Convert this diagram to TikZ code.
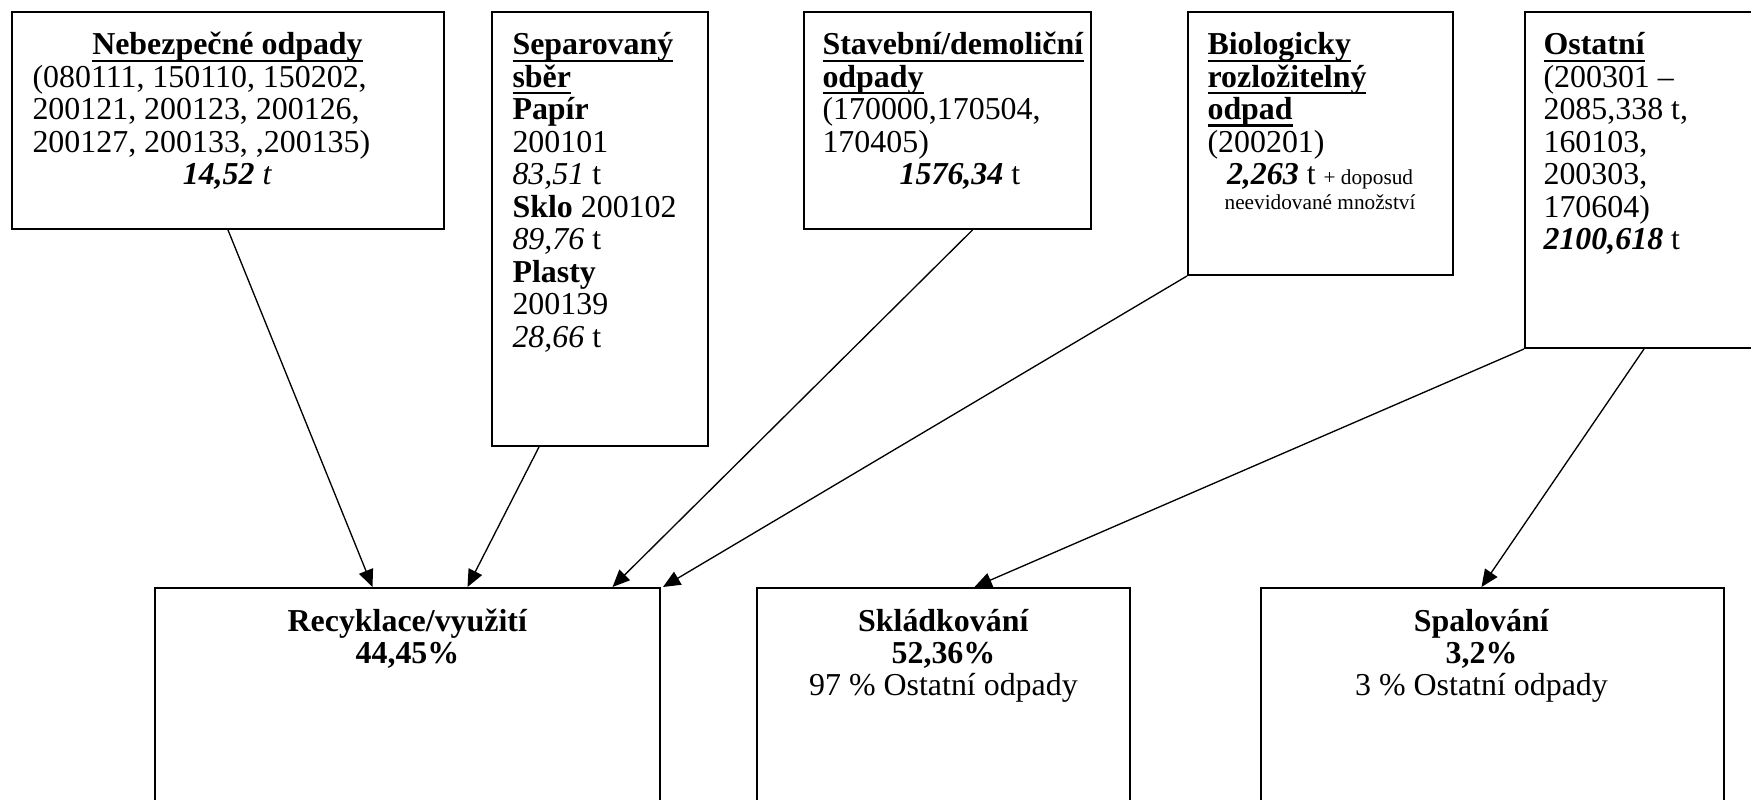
\documentclass[tikz,border=0pt]{standalone}
\usepackage{fontspec}
\setmainfont{Liberation Serif}
\usetikzlibrary{arrows.meta,calc,fit}

\newsavebox{\ulbox}
\newcommand{\ulbf}[1]{\leavevmode\sbox{\ulbox}{\textbf{#1}}\rlap{\rule[-2.6pt]{\wd\ulbox}{0.9pt}}\usebox{\ulbox}}
\newcommand{\bi}[1]{\textbf{\textit{#1}}}

\begin{document}
\begin{tikzpicture}[x=0.376pt,y=-0.376pt,>={Triangle[length=6.5pt,width=5.6pt]},
	frame/.style={draw,line width=0.75pt,inner sep=0pt},
	boxtext/.style={anchor=base west,inner sep=0pt,align=flush left,font=\fontsize{12}{12.2}\selectfont},
	goaltext/.style={anchor=base,inner sep=0pt,align=flush center,font=\fontsize{12}{12.2}\selectfont},
	flow/.style={->,line width=0.5pt}]
	\useasboundingbox (0,0) rectangle (1751,800);

	% sources
	\node[frame,fit={(12,12) (444,229)}] (nebezpecne) {};
	\node[boxtext,text width=146.6pt] at ($(nebezpecne.north west)+(21,44)$) {%
		{\centering\ulbf{Nebezpečné odpady}\par}
		(080111, 150110, 150202,\\
		200121, 200123, 200126,\\
		200127, 200133, ,200135)\par
		{\centering\bi{14,52} \textit{t}\par}};

	\node[frame,fit={(492,12) (708,446)}] (separovany) {};
	\node[boxtext,text width=65.4pt] at ($(separovany.north west)+(21,44)$) {%
		\ulbf{Separovaný}\\
		\ulbf{sběr}\\
		\textbf{Papír}\\
		200101\\
		\textit{83,51} t\\
		\textbf{Sklo} 200102\\
		\textit{89,76} t\\
		\textbf{Plasty}\\
		200139\\
		\textit{28,66} t};

	\node[frame,fit={(804,12) (1091,229)}] (stavebni) {};
	\node[boxtext,text width=99.6pt] at ($(stavebni.north west)+(19,44)$) {%
		\ulbf{Stavební/demoliční}\\
		\ulbf{odpady}\\
		(170000,170504,\\
		170405)\\
		\hspace*{29pt}\bi{1576,34} t};

	\node[frame,fit={(1188,12) (1453,275)}] (biologicky) {};
	\node[boxtext,text width=84.6pt] at ($(biologicky.north west)+(20,44)$) {%
		\ulbf{Biologicky}\\
		\ulbf{rozložitelný}\\
		\ulbf{odpad}\\
		(200201)\par
		{\centering\bi{2,263} t {\fontsize{8}{9.2}\selectfont + doposud}\par}
		{\centering\fontsize{8}{9.2}\selectfont neevidované množství\par}};

	\node[frame,fit={(1525,12) (1770,348)}] (ostatni) {};
	\node[boxtext,text width=78pt] at ($(ostatni.north west)+(19,44)$) {%
		\ulbf{Ostatní}\\
		(200301 --\\
		2085,338 t,\\
		160103,\\
		200303,\\
		170604)\\
		\bi{2100,618} t};

	% targets
	\node[frame,fit={(155,588) (660,820)}] (recyklace) {};
	\node[goaltext,text width=175pt] at ($(recyklace.north)+(0,44)$) {%
		\textbf{Recyklace/využití}\\
		\textbf{44,45\%}};

	\node[frame,fit={(757,588) (1130,820)}] (skladkovani) {};
	\node[goaltext,text width=130pt] at ($(skladkovani.north)+(0,44)$) {%
		\textbf{Skládkování}\\
		\textbf{52,36\%}\\
		97 \% Ostatní odpady};

	\node[frame,fit={(1261,588) (1724,820)}] (spalovani) {};
	\node[goaltext,text width=160pt] at ($(spalovani.north)+(-11,44)$) {%
		\textbf{Spalování}\\
		\textbf{3,2\%}\\
		3 \% Ostatní odpady};

	% flows
	\draw[flow] (nebezpecne.south) -- ($(recyklace.north)+(-35,0)$);
	\draw[flow] ($(separovany.south west)+(48,0)$) -- ($(recyklace.north)+(60,0)$);
	\draw[flow] ($(stavebni.south)+(25,0)$) -- ($(recyklace.north)+(205,0)$);
	\draw[flow] (biologicky.south west) -- ($(recyklace.north east)+(2,0)$);
	\draw[flow] (ostatni.south west) -- ($(skladkovani.north)+(31,0)$);
	\draw[flow] ($(ostatni.south west)+(120,0)$) -- ($(spalovani.north)+(-11,0)$);
\end{tikzpicture}
\end{document}
